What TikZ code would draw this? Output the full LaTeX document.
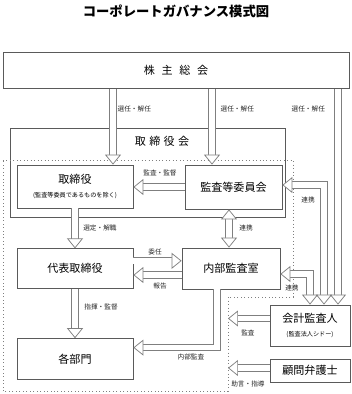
\documentclass[tikz,border=0pt]{standalone}
\usepackage{fontspec}
\setmainfont{Noto Sans CJK JP}
\usepackage{tikz}
\usetikzlibrary{arrows.meta,positioning,calc}
\definecolor{boxgray}{HTML}{5A5A5A}
\definecolor{arrgray}{HTML}{7F7F7F}
\newcommand{\lblfont}{\fontsize{5}{6}\selectfont}
\newcommand{\subfont}{\fontsize{4.6}{5.5}\selectfont}

\begin{document}
\begin{tikzpicture}[
  x=0.75pt, y=-0.75pt,
  box/.style={draw=boxgray, line width=0.6pt, fill=white, align=center,
              font=\fontsize{8.3}{10}\selectfont, inner sep=0pt},
  tip/.style={-{Triangle[open, fill=white, line width'=0.55pt, width=12pt, length=7.5pt]}},
  blk/.style={draw=arrgray, line width=0.55pt, double=white, double distance=4.2pt, tip},
  blkboth/.style={blk, {Triangle[open, fill=white, line width'=0.55pt, width=12pt, length=7.5pt]}-{Triangle[open, fill=white, line width'=0.55pt, width=12pt, length=7.5pt]}},
  lbl/.style={font=\lblfont, inner sep=1pt, text=black!85}
]
\useasboundingbox (0,0) rectangle (352,394);
\node[font=\bfseries\fontsize{10}{12}\selectfont] (title) at (176,11) {コーポレートガバナンス模式図};

% boxes
\node[box, minimum width=259.5pt, minimum height=27pt] (kabunushi) at (176,70.5)
  {株\hspace{5pt}主\hspace{5pt}総\hspace{5pt}会};
\node[box, fill=none, minimum width=206.25pt, minimum height=66.75pt] (torikai) at (147.5,172.5) {};
\node[font=\fontsize{8.3}{10}\selectfont] (torikaiL) at (162,141)
  {取\hspace{2.5pt}締\hspace{2.5pt}役\hspace{2.5pt}会};
\node[box, minimum width=87pt, minimum height=32.25pt] (tori) at (75,186.5)
  {取締役\\[1pt]{\subfont (監査等委員であるものを除く)}};
\node[box, minimum width=72.75pt, minimum height=33pt] (kansaiin) at (233.5,187) {監査等委員会};
\node[box, minimum width=87pt, minimum height=30pt, below=30pt of tori] (daihyo) {代表取締役};
\node[box, minimum width=73.5pt, minimum height=30.75pt] (naibu) at (231,268.5) {内部監査室};
\node[box, minimum width=87pt, minimum height=30.75pt, below=36.75pt of daihyo] (bumon) {各部門};
\node[box, minimum width=60pt, minimum height=30.75pt] (kaikei) at (310,325.5)
  {会計監査人\\[1pt]{\subfont (監査法人シドー)}};
\node[box, minimum width=60pt, minimum height=17.25pt] (komon) at (310,370.5) {顧問弁護士};

% dotted area
\draw[dotted, arrgray, line width=0.6pt] (3,160) -- (293,160) -- (293,297) -- (228,297)
  -- (228,391) -- (3,391) -- cycle;
\coordinate (edge) at (228,0);

% arrows
\coordinate (k1) at ($(tori.north)+(38,0)$);
\coordinate (k2) at ($(kansaiin.north)+(-21.5,0)$);
\coordinate (k3) at ($(kaikei.north)+(28,0)$);
\draw[blk] (k1 |- kabunushi.south) -- (k1);
\draw[blk] (k2 |- kabunushi.south) -- (k2);
\draw[blk] (k3 |- kabunushi.south) -- (k3);
\draw[blkboth] ($(kansaiin.east)+(0,-2)$) -| ($(kaikei.north)+(14,0)$);
\draw[blkboth] ($(naibu.east)+(0,5.5)$) -| (kaikei.north);
\draw[blk] (kansaiin.west) -- (kansaiin.west -| tori.east);
\draw[blk] (tori.south) -- (daihyo.north);
\coordinate (d1) at ($(daihyo.east)+(0,-8)$);
\coordinate (n1) at ($(naibu.west)+(0,6.5)$);
\draw[blk] (d1) -- (d1 -| naibu.west);
\draw[blk] (n1) -- (n1 -| daihyo.east);
\draw[blk] (daihyo.south) -- (bumon.north);
\draw[blk] ($(naibu.south)+(-14,0)$) |- ($(bumon.east)+(0,-11.5)$);
\coordinate (r1) at ($(kansaiin.south)+(-4.5,0)$);
\draw[blkboth] (r1) -- (r1 |- naibu.north);
\coordinate (a1) at ($(kaikei.west)+(0,-7)$);
\coordinate (a2) at ($(komon.west)+(0,-2.5)$);
\draw[blk] (a1) -- (a1 -| edge);
\draw[blk] (a2) -- (a2 -| edge);

% labels
\node[lbl, anchor=west] (s1) at (116,109) {選任・解任};
\node[lbl, anchor=west] (s2) at (219,109) {選任・解任};
\node[lbl, anchor=west] (s3) at (290,109) {選任・解任};
\node[lbl] (kantoku) at (160,173) {監査・監督};
\node[lbl] (sentei) at (100,228) {選定・解職};
\node[lbl] (renkei1) at (246,228) {連携};
\node[lbl] (renkei2) at (308,200) {連携};
\node[lbl] (inin) at (155,252) {委任};
\node[lbl] (houkoku) at (160,286) {報告};
\node[lbl] (shiki) at (101,307) {指揮・監督};
\node[lbl] (naibuL) at (191,357) {内部監査};
\node[lbl] (renkei3) at (292,288) {連携};
\node[lbl] (kansa) at (248,333) {監査};
\node[lbl] (jogen) at (248,384) {助言・指導};
\end{tikzpicture}
\end{document}
